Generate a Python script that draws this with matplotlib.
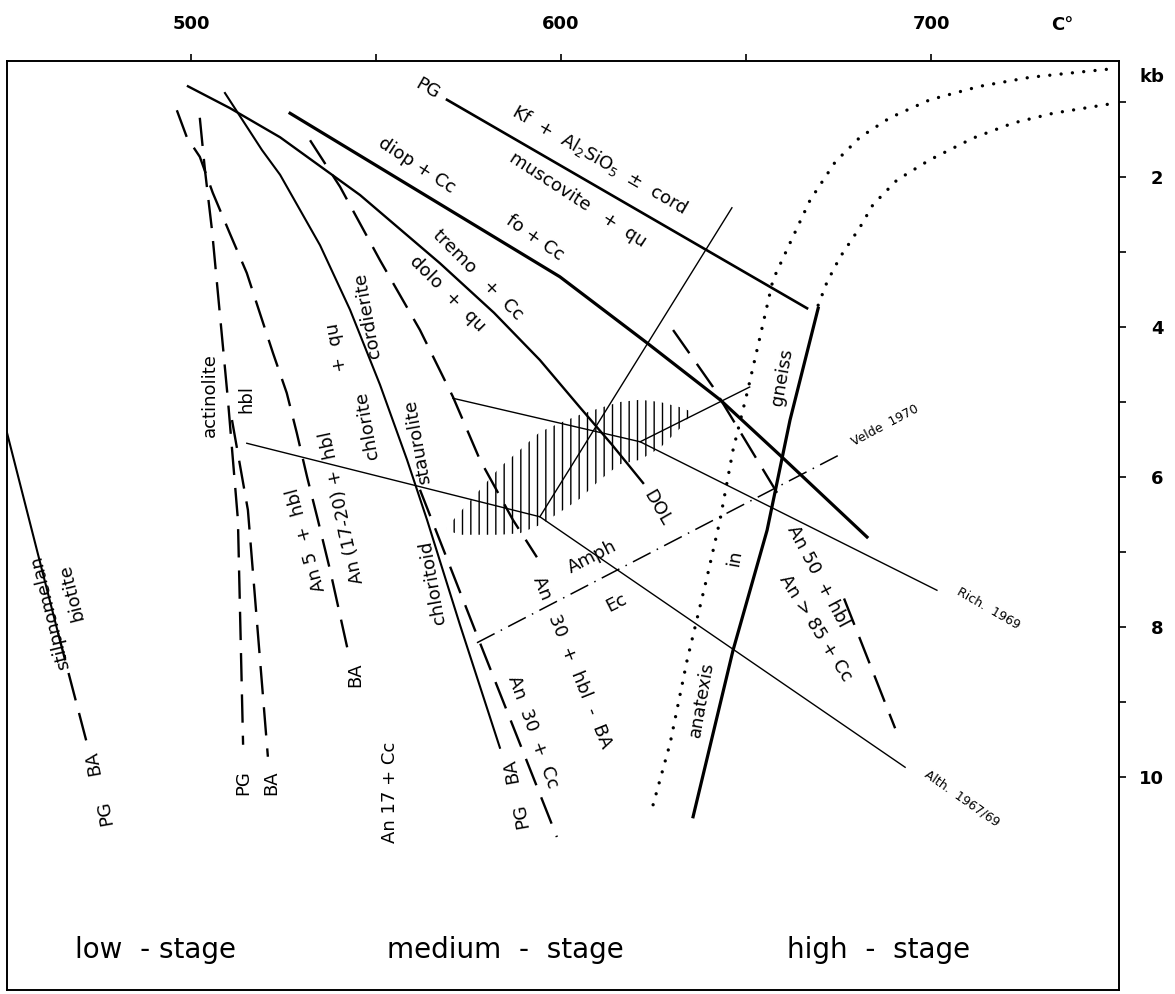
import matplotlib
matplotlib.use("Agg")
import matplotlib.pyplot as plt

# ---- values: temperature (C) and pressure (kb) ----
stilp_T = [450.3, 464.1]
stilp_P = [5.41, 8.08]
stilp_d_T = [464.1, 471.9]
stilp_d_P = [8.08, 9.55]

act_pg_T = [502.4, 503.8, 505.7, 510.0, 512.7, 514.1]
act_pg_P = [1.21, 1.91, 2.71, 4.97, 6.57, 9.57]
act_ba_T = [511.1, 515.4, 520.8]
act_ba_P = [5.24, 6.44, 9.73]

an5_T = [496.2, 498.9, 502.4, 505.9, 510.5, 515.1, 518.6, 522.2, 525.9, 528.6, 531.4, 534.3, 537.6, 542.4]
an5_P = [1.11, 1.47, 1.73, 2.21, 2.75, 3.28, 3.81, 4.35, 4.88, 5.41, 6.0, 6.57, 7.24, 8.31]

chl_T = [509.2, 519.2, 524.1, 534.9, 543.0, 551.1, 558.4, 563.8, 572.7, 583.5]
chl_P = [0.88, 1.64, 1.97, 2.91, 3.77, 4.77, 5.77, 6.57, 7.97, 9.61]

an30h_T = [532.2, 540.3, 551.1, 561.9, 570.8, 578.1, 587.0, 593.5]
an30h_P = [1.51, 2.13, 3.11, 4.04, 4.93, 5.77, 6.57, 7.07]

an30c_T = [561.9, 578.1, 598.9]
an30c_P = [6.17, 8.21, 10.8]

tremo_T = [499.2, 510.5, 524.1, 545.7, 567.3, 581.9, 594.3, 605.1, 613.8, 622.2]
tremo_P = [0.79, 1.08, 1.47, 2.24, 3.15, 3.81, 4.44, 5.07, 5.57, 6.08]

fo_T = [526.8, 599.7, 623.2, 643.0, 659.2, 682.7]
fo_P = [1.15, 3.33, 4.21, 4.97, 5.71, 6.8]

pg_T = [569.2, 666.5]
pg_P = [0.97, 3.75]

amph_up_T = [594.3, 646.2]
amph_up_P = [6.53, 2.41]

alth_T = [515.1, 594.3, 693.0]
alth_P = [5.55, 6.53, 9.87]

rich_T = [570.8, 621.4, 701.6]
rich_P = [4.95, 5.53, 7.51]
rich_br_T = [621.4, 651.0]
rich_br_P = [5.53, 4.80]

an50_T = [630.3, 641.1, 658.4]
an50_P = [4.04, 4.80, 6.21]
an85_T = [676.5, 690.3]
an85_P = [7.62, 9.35]

velde_T = [577.3, 676.2]
velde_P = [8.21, 5.68]

anat1_T = [624.9, 629.5, 634.1, 639.5, 643.0, 646.5, 650.3, 653.8, 657.3, 661.9, 667.3,
           674.1, 680.8, 688.9, 699.7, 713.2, 726.8, 740.3, 750.3]
anat1_P = [10.37, 9.55, 8.44, 7.33, 6.57, 5.64, 4.88, 4.13, 3.37, 2.88, 2.31,
           1.80, 1.47, 1.21, 0.97, 0.79, 0.67, 0.60, 0.55]
anat2_T = [669.5, 671.9, 675.4, 680.8, 684.3, 690.8, 699.7, 711.4, 722.2, 733.0, 750.3]
anat2_P = [3.71, 3.40, 3.07, 2.67, 2.37, 2.04, 1.77, 1.48, 1.28, 1.15, 1.01]

gneiss_T = [669.5, 661.9, 655.7, 646.5, 635.7]
gneiss_P = [3.75, 5.24, 6.71, 8.31, 10.53]

hatch_T = [569.2, 572.7, 578.1, 583.5, 588.9, 594.3, 599.7, 605.1, 610.5, 615.9, 621.4, 626.8, 632.2, 635.4]
hatch_top = [6.67, 6.47, 6.17, 5.87, 5.64, 5.40, 5.28, 5.17, 5.08, 5.00, 4.97, 5.00, 5.07, 5.13]
hatch_bot = [6.71, 6.77, 6.77, 6.77, 6.75, 6.64, 6.47, 6.29, 6.04, 5.83, 5.77, 5.61, 5.35, 5.15]

# labels: text, T, P, rotation, size
labels = [
    ("PG", 563.8, 0.83, -30, 13),
    (r"Kf  +  Al$_2$SiO$_5$  $\pm$  cord", 610.5, 1.77, -30, 13),
    ("muscovite   +  qu", 604.6, 2.31, -33, 13),
    ("diop + Cc", 561.1, 1.84, -33, 13),
    ("fo + Cc", 593.0, 2.81, -35, 13),
    ("tremo   +  Cc", 577.6, 3.31, -45, 13),
    ("dolo  +  qu", 569.2, 3.55, -45, 13),
    ("cordierite", 547.8, 3.84, 100, 13),
    ("+  qu", 539.5, 4.27, 100, 13),
    ("chlorite", 547.6, 5.31, 100, 13),
    ("staurolite", 561.4, 5.53, 100, 13),
    ("chloritoid", 565.4, 7.40, 100, 13),
    ("actinolite", 505.1, 4.91, 90, 13),
    ("hbl", 515.1, 4.96, 90, 13),
    ("An 5  +  hbl", 531.1, 6.84, 105, 13),
    ("An (17-20) +  hbl", 540.8, 6.40, 102, 13),
    ("BA", 544.3, 8.64, 90, 13),
    ("An 17 + Cc", 553.8, 10.20, 90, 13),
    ("BA", 586.5, 9.91, 100, 13),
    ("PG", 589.2, 10.51, 100, 13),
    ("An  30  +  Cc", 592.4, 9.40, -70, 13),
    ("An   30  +  hbl  -  BA", 603.0, 8.47, -68, 13),
    ("Amph", 608.4, 7.07, 27, 13),
    ("Ec", 615.1, 7.67, 27, 13),
    ("DOL", 625.9, 6.41, -60, 13),
    ("gneiss", 659.7, 4.67, 80, 13),
    ("anatexis", 638.1, 8.97, 80, 13),
    ("in", 647.0, 7.08, 80, 13),
    ("An 50  + hbl", 669.5, 7.33, -62, 13),
    ("An > 85 + Cc", 668.9, 8.01, -58, 13),
    ("Velde  1970", 687.6, 5.31, 28, 9),
    ("Rich.  1969", 715.4, 7.75, -30, 9),
    ("Alth.  1967/69", 708.4, 10.28, -35, 9),
    ("stilpnomelan", 461.9, 7.81, 104, 13),
    ("biotite", 467.8, 7.53, 104, 13),
    ("BA", 473.5, 9.81, 100, 13),
    ("PG", 476.8, 10.47, 100, 13),
    ("PG", 514.1, 10.08, 90, 13),
    ("BA", 521.6, 10.08, 90, 13),
]
stages = [("low  - stage", 490.3), ("medium  -  stage", 584.9), ("high  -  stage", 685.9)]

fig = plt.figure(figsize=(11.75, 9.94), dpi=100)
ax = fig.add_axes([7 / 1175, 4 / 994, 1112 / 1175, 929 / 994])
ax.set_xlim(450.3, 750.8)
ax.set_ylim(12.84, 0.453)

dash = (0, (12, 5.5))
k = "black"

ax.plot(stilp_T, stilp_P, color=k, lw=1.5)
ax.plot(stilp_d_T, stilp_d_P, color=k, lw=1.7, ls=dash)
ax.plot(act_pg_T, act_pg_P, color=k, lw=1.7, ls=dash)
ax.plot(act_ba_T, act_ba_P, color=k, lw=1.7, ls=dash)
ax.plot(an5_T, an5_P, color=k, lw=1.7, ls=dash)
ax.plot(chl_T, chl_P, color=k, lw=1.5)
ax.plot(an30h_T, an30h_P, color=k, lw=1.7, ls=dash)
ax.plot(an30c_T, an30c_P, color=k, lw=1.7, ls=dash)
ax.plot(tremo_T, tremo_P, color=k, lw=1.7)
ax.plot(fo_T, fo_P, color=k, lw=2.3)
ax.plot(pg_T, pg_P, color=k, lw=1.9)
ax.plot(amph_up_T, amph_up_P, color=k, lw=1.0)
ax.plot(alth_T, alth_P, color=k, lw=1.0)
ax.plot(rich_T, rich_P, color=k, lw=1.0)
ax.plot(rich_br_T, rich_br_P, color=k, lw=1.0)
ax.plot(an50_T, an50_P, color=k, lw=1.7, ls=dash)
ax.plot(an85_T, an85_P, color=k, lw=1.7, ls=dash)
ax.plot(velde_T, velde_P, color=k, lw=1.1, ls=(0, (13, 4.5, 1, 4.5)))
ax.plot(anat1_T, anat1_P, color=k, lw=2.4, ls=(0, (0.01, 3.4)), dash_capstyle="round")
ax.plot(anat2_T, anat2_P, color=k, lw=2.4, ls=(0, (0.01, 3.4)), dash_capstyle="round")
ax.plot(gneiss_T, gneiss_P, color=k, lw=2.3)

plt.rcParams["hatch.linewidth"] = 1.0
ax.fill_between(hatch_T, hatch_top, hatch_bot, facecolor="none", edgecolor=k,
                hatch="||", linewidth=0)

for txt, t, p, rot, size in labels:
    ax.text(t, p, txt, rotation=rot, fontsize=size, ha="center", va="center",
            rotation_mode="anchor")
for txt, t in stages:
    ax.text(t, 12.3, txt, fontsize=20, ha="center", va="center")

# axes: temperature on top, pressure on the right
ax.xaxis.tick_top()
ax.set_xticks([500, 550, 600, 650, 700])
ax.set_xticklabels(["500", "", "600", "", "700"])
ax.yaxis.tick_right()
ax.set_yticks(range(1, 11))
ax.set_yticklabels(["", "2", "", "4", "", "6", "", "8", "", "10"])
ax.tick_params(axis="x", direction="out", length=5, width=1.2, pad=15,
               labelsize=13)
ax.tick_params(axis="y", direction="out", length=5, width=1.2, pad=27,
               labelsize=13)
for lab in ax.get_xticklabels() + ax.get_yticklabels():
    lab.set_fontweight("bold")
for lab in ax.get_yticklabels():
    lab.set_horizontalalignment("right")
for s in ax.spines.values():
    s.set_linewidth(1.4)

ax.text(735.4, -0.03, "C°", fontsize=13, fontweight="bold", ha="center", va="center")
ax.text(759.7, 0.67, "kb", fontsize=13, fontweight="bold", ha="center", va="center")

fig.savefig("out.png", dpi=100)
